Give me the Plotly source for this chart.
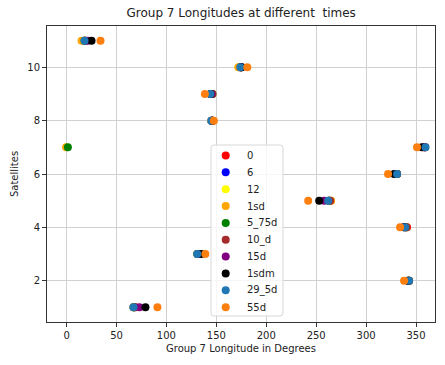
import plotly.graph_objects as go

satellites = [1, 2, 3, 4, 5, 6, 7, 8, 9, 10, 11]

series_names = ["0", "6", "12", "1sd", "5_75d", "10_d", "15d", "1sdm", "29_5d", "55d"]
series_colors = ["red", "blue", "yellow", "orange", "green", "brown", "purple", "black", "#1f77b4", "#ff7f0e"]

lon_0 = [67, 343, 131, 341, 263, 331, 359, 145, 146, 174, 18]
lon_6 = [67, 343, 131, 340, 263, 331, 359, 145, 145, 174, 18]
lon_12 = [67, 343, 131, 340, 263, 331, 359, 145, 145, 174, 18]
lon_1sd = [68, 343, 132, 340, 265, 331, -0.5, 146, 146, 172, 15]
lon_5_75d = [68, 343, 131, 340, 263, 331, 1.3, 146, 146, 175, 18]
lon_10_d = [69, 343, 132, 340, 264, 331, 359, 146, 146, 175, 19]
lon_15d = [73, 342, 133, 338, 258, 330, 358, 146, 145, 175, 21]
lon_1sdm = [79, 342, 135, 338, 253, 328, 356, 146, 144, 175, 25]
lon_29_5d = [67, 343, 131, 339, 262, 331, 359.5, 145, 144, 174, 18]
lon_55d = [91, 338, 139, 334, 242, 322, 351, 147.5, 138.5, 181, 34]

all_lons = [lon_0, lon_6, lon_12, lon_1sd, lon_5_75d, lon_10_d, lon_15d, lon_1sdm, lon_29_5d, lon_55d]

W, H = 445, 365
ML, MR, MT, MB = 47, 10, 26, 43
PW, PH = W - ML - MR, H - MT - MB


def px_x(p):
    return (p - ML) / PW


def px_y(p):
    return (H - MB - p) / PH


fig = go.Figure()
for name, color, lons in zip(series_names, series_colors, all_lons):
    fig.add_trace(go.Scatter(
        x=lons, y=satellites, mode="markers", name=name, showlegend=False,
        marker=dict(color=color, size=8, line=dict(width=0)),
    ))

# custom legend (matplotlib-like spacing)
lx0, lx1, ly0, ly1, r = 211, 283, 145, 316, 3
path = (f"M {px_x(lx0 + r)} {px_y(ly0)} L {px_x(lx1 - r)} {px_y(ly0)} "
        f"Q {px_x(lx1)} {px_y(ly0)} {px_x(lx1)} {px_y(ly0 + r)} "
        f"L {px_x(lx1)} {px_y(ly1 - r)} Q {px_x(lx1)} {px_y(ly1)} {px_x(lx1 - r)} {px_y(ly1)} "
        f"L {px_x(lx0 + r)} {px_y(ly1)} Q {px_x(lx0)} {px_y(ly1)} {px_x(lx0)} {px_y(ly1 - r)} "
        f"L {px_x(lx0)} {px_y(ly0 + r)} Q {px_x(lx0)} {px_y(ly0)} {px_x(lx0 + r)} {px_y(ly0)} Z")
shapes = [dict(type="path", xref="paper", yref="paper", path=path,
               fillcolor="rgba(255,255,255,0.8)", line=dict(color="#d8d8d8", width=1), layer="above")]
annotations = []
for i, (name, color) in enumerate(zip(series_names, series_colors)):
    cy = 155.5 + 16.85 * i
    shapes.append(dict(type="circle", xref="paper", yref="paper",
                       xsizemode="pixel", ysizemode="pixel",
                       xanchor=px_x(225.7), yanchor=px_y(cy),
                       x0=-4, x1=4, y0=-4, y1=4,
                       fillcolor=color, line=dict(width=0), layer="above"))
    annotations.append(dict(x=px_x(245), y=px_y(cy), xref="paper", yref="paper",
                            text=name, showarrow=False, xanchor="left", yanchor="middle",
                            font=dict(size=10, color="#222222")))

axis_common = dict(
    showgrid=True, gridcolor="#d0d0d0", gridwidth=1,
    showline=True, linecolor="#333333", linewidth=1, mirror=True,
    ticks="outside", ticklen=4, tickcolor="#333333",
    zeroline=False, tickfont=dict(size=10, color="#222222"),
)

fig.update_layout(
    width=W, height=H,
    margin=dict(l=ML, r=MR, t=MT, b=MB),
    paper_bgcolor="white", plot_bgcolor="white",
    font=dict(family="DejaVu Sans", size=10, color="#222222"),
    title=dict(text="Group 7 Longitudes at different  times", x=0.542, xanchor="center",
               y=0.965, yanchor="middle", font=dict(size=12, color="#222222")),
    xaxis=dict(range=[-19.6, 369], tickvals=[0, 50, 100, 150, 200, 250, 300, 350],
               title=dict(text="Group 7 Longitude in Degrees", standoff=4, font=dict(size=10)),
               **axis_common),
    yaxis=dict(range=[0.45, 11.55], tickvals=[2, 4, 6, 8, 10],
               title=dict(text="Satellites", standoff=6, font=dict(size=10)),
               **axis_common),
    shapes=shapes,
    annotations=annotations,
    showlegend=False,
)

fig.write_html("out.html")
